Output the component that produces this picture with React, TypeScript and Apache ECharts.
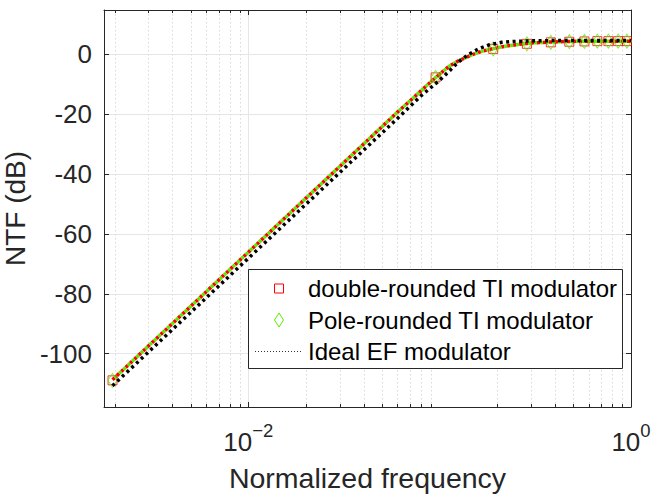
import React, { useEffect, useRef } from "react";
import * as echarts from "echarts";

// ---- data ----
const redFreq = [0.00195, 0.01, 0.03, 0.06, 0.075, 0.0947, 0.111, 0.125, 0.147, 0.166, 0.187, 0.22, 0.258, 0.303, 0.38, 0.475, 0.57, 0.67, 0.8, 1.0];
const redDb = [-108.7, -66.1, -37.5, -19.4, -13.8, -7.9, -4.2, -2.2, -0.2, 1.0, 1.8, 2.7, 3.3, 3.8, 4.1, 4.3, 4.35, 4.4, 4.4, 4.4];
const greenFreq = [0.00195, 0.01, 0.03, 0.06, 0.075, 0.0947, 0.111, 0.125, 0.147, 0.166, 0.187, 0.22, 0.258, 0.303, 0.38, 0.475, 0.57, 0.67, 0.8, 1.0];
const greenDb = [-108.7, -66.1, -37.5, -19.4, -13.8, -7.9, -4.2, -2.2, -0.2, 1.0, 1.8, 2.7, 3.3, 3.8, 4.1, 4.3, 4.35, 4.4, 4.4, 4.4];
const idealFreq = [0.00195, 0.01, 0.03, 0.06, 0.0807, 0.0986, 0.111, 0.125, 0.141, 0.1595, 0.18, 0.211, 0.248, 0.303, 0.4, 0.6, 1.0];
const idealDb = [-110.7, -68.1, -39.5, -21.5, -13.6, -9.0, -5.9, -2.6, -0.1, 1.8, 3.1, 4.0, 4.3, 4.5, 4.6, 4.6, 4.6];
const markerFreq = [0.00195, 0.0952, 0.1905, 0.2857, 0.381, 0.476, 0.571, 0.667, 0.762, 0.857, 0.952];
const redMarkerDb = [-108.9, -7.7, 1.8, 3.5, 4.0, 4.2, 4.3, 4.4, 4.4, 4.4, 4.4];
const greenMarkerDb = [-108.9, -7.7, 1.8, 3.5, 4.0, 4.2, 4.3, 4.4, 4.4, 4.4, 4.4];
const minorTickValues = [0.002, 0.003, 0.004, 0.005, 0.006, 0.007, 0.008, 0.009, 0.02, 0.03, 0.04, 0.05, 0.06, 0.07, 0.08, 0.09, 0.2, 0.3, 0.4, 0.5, 0.6, 0.7, 0.8, 0.9];
const majorTickValues = [0.01];
const xLabelExponents = [-2, 0];
const legendNames = ["double-rounded TI modulator", "Pole-rounded TI modulator", "Ideal EF modulator"];

const X_MIN = 0.00176;
const X_MAX = 1;
const Y_MIN = -117.8;
const Y_MAX = 14.8;

const FONT = '"Liberation Sans", Arial, Helvetica, sans-serif';
const AXIS_COLOR = "#262626";
const RED = "#ff0000";
const GREEN = "#55ee00";

const zip = (a: number[], b: number[]) => a.map((v, i) => [v, b[i]]);

export default function App() {
  const ref = useRef<HTMLDivElement>(null);
  useEffect(() => {
    if (!ref.current) return;
    const chart = echarts.init(ref.current, undefined, { renderer: "svg" });

    const tickData = [
      ...minorTickValues.map((v) => [v, 0]),
      ...majorTickValues.map((v) => [v, 1]),
    ];

    const xLabelFormatter = (v: number) => {
      const lg = Math.log10(v);
      for (const e of xLabelExponents) {
        if (Math.abs(lg - e) < 1e-6) return `{b|10}{s|${e < 0 ? "\u2212" + Math.abs(e) : e}}`;
      }
      return "";
    };

    const legendTop = 269;
    const legendLeft = 248;
    const rows = [288.5, 320, 351];
    const LZ = 100;

    const option: any = {
      animation: false,
      backgroundColor: "#ffffff",
      grid: { left: 104, right: 21, top: 10, bottom: 88, containLabel: false, outerBoundsMode: "none" },
      xAxis: [
        {
          type: "log",
          logBase: 10,
          min: X_MIN,
          max: X_MAX,
          position: "bottom",
          name: "Normalized frequency",
          nameLocation: "middle",
          nameGap: 56,
          nameTextStyle: { fontSize: 28.5, color: AXIS_COLOR, fontFamily: FONT },
          axisLine: { show: true, onZero: false, lineStyle: { color: AXIS_COLOR, width: 1 } },
          axisTick: { show: false },
          splitLine: { show: false },
          minorTick: { show: false },
          axisLabel: {
            show: true,
            margin: 14,
            showMinLabel: false,
            formatter: xLabelFormatter,
            rich: {
              b: { fontSize: 26, fontFamily: FONT, color: AXIS_COLOR, verticalAlign: "bottom", lineHeight: 34 },
              s: { fontSize: 18.5, fontFamily: FONT, color: AXIS_COLOR, verticalAlign: "top", lineHeight: 19 },
            },
          },
        },
        {
          type: "log",
          logBase: 10,
          min: X_MIN,
          max: X_MAX,
          position: "top",
          axisLine: { show: true, onZero: false, lineStyle: { color: AXIS_COLOR, width: 1 } },
          axisTick: { show: false },
          axisLabel: { show: false },
          splitLine: { show: false },
        },
      ],
      yAxis: [
        {
          type: "value",
          min: Y_MIN,
          max: Y_MAX,
          splitNumber: 7,
          position: "left",
          name: "NTF (dB)",
          nameLocation: "middle",
          nameGap: 71,
          nameTextStyle: { fontSize: 28, color: AXIS_COLOR, fontFamily: FONT },
          axisLine: { show: true, onZero: false, lineStyle: { color: AXIS_COLOR, width: 1 } },
          axisTick: { show: true, inside: true, length: 5, lineStyle: { color: AXIS_COLOR } },
          axisLabel: {
            show: true,
            margin: 12,
            fontSize: 26,
            fontFamily: FONT,
            color: AXIS_COLOR,
            formatter: (v: number) => (Math.abs(v % 20) < 1e-9 ? String(v) : ""),
          },
          splitLine: { show: true, lineStyle: { color: "#e6e6e6", width: 1 } },
        },
        {
          type: "value",
          min: Y_MIN,
          max: Y_MAX,
          splitNumber: 7,
          position: "right",
          axisLine: { show: true, onZero: false, lineStyle: { color: AXIS_COLOR, width: 1 } },
          axisTick: { show: true, inside: true, length: 5, lineStyle: { color: AXIS_COLOR } },
          axisLabel: { show: false },
          splitLine: { show: false },
        },
      ],
      series: [
        {
          type: "custom",
          xAxisIndex: 0,
          yAxisIndex: 0,
          z: 1,
          silent: true,
          data: tickData,
          encode: { x: 0, y: 1 },
          renderItem: (params: any, api: any) => {
            const f = api.value(0);
            const major = api.value(1) === 1;
            const cs = params.coordSys;
            const x = Math.round(api.coord([f, 0])[0]) + 0.5;
            const top = cs.y;
            const bottom = cs.y + cs.height;
            const len = major ? 5 : 3;
            return {
              type: "group",
              children: [
                {
                  type: "line",
                  shape: { x1: x, y1: top, x2: x, y2: bottom },
                  style: major
                    ? { stroke: "#e6e6e6", lineWidth: 1 }
                    : { stroke: "#d9d9d9", lineWidth: 1, lineDash: [1.5, 2.5] },
                },
                { type: "line", shape: { x1: x, y1: bottom, x2: x, y2: bottom - len }, style: { stroke: AXIS_COLOR, lineWidth: 1 } },
                { type: "line", shape: { x1: x, y1: top, x2: x, y2: top + len }, style: { stroke: AXIS_COLOR, lineWidth: 1 } },
              ],
            };
          },
        },
        {
          name: "red-line",
          type: "line",
          z: 3,
          data: zip(redFreq, redDb),
          showSymbol: false,
          symbol: "none",
          lineStyle: { color: RED, width: 3.5, type: [3, 3], dashOffset: 0, cap: "butt" },
        },
        {
          name: "green-line",
          type: "line",
          z: 3,
          data: zip(greenFreq, greenDb),
          showSymbol: false,
          symbol: "none",
          lineStyle: { color: GREEN, width: 3.5, type: [3, 3], dashOffset: 3, cap: "butt" },
        },
        {
          name: legendNames[0],
          type: "scatter",
          z: 4,
          data: zip(markerFreq, redMarkerDb),
          symbol: "rect",
          symbolSize: 9,
          itemStyle: { color: "rgba(0,0,0,0)", borderColor: RED, borderWidth: 1 },
        },
        {
          name: legendNames[1],
          type: "scatter",
          z: 4,
          data: zip(markerFreq, greenMarkerDb),
          symbol: "diamond",
          symbolSize: [9, 14],
          itemStyle: { color: "rgba(0,0,0,0)", borderColor: GREEN, borderWidth: 1 },
        },
        {
          name: legendNames[2],
          type: "line",
          z: 5,
          data: zip(idealFreq, idealDb),
          showSymbol: false,
          symbol: "none",
          lineStyle: { color: "#000000", width: 3.5, type: [3, 3.5], cap: "butt" },
        },
      ],
      graphic: {
        elements: [
          {
            type: "rect",
            z: LZ,
            shape: { x: legendLeft + 0.5, y: legendTop + 0.5, width: 374, height: 99 },
            style: { fill: "#ffffff", stroke: AXIS_COLOR, lineWidth: 1 },
          },
          {
            type: "rect",
            z: LZ + 1,
            shape: { x: 274.5, y: rows[0] - 4.5, width: 9, height: 9 },
            style: { fill: "none", stroke: RED, lineWidth: 1 },
          },
          {
            type: "polygon",
            z: LZ + 1,
            shape: { points: [[279, rows[1] - 7], [283.5, rows[1]], [279, rows[1] + 7], [274.5, rows[1]]] },
            style: { fill: "none", stroke: GREEN, lineWidth: 1 },
          },
          {
            type: "line",
            z: LZ + 1,
            shape: { x1: 255, y1: rows[2] + 0.5, x2: 302, y2: rows[2] + 0.5 },
            style: { stroke: "#333333", lineWidth: 1, lineDash: [1, 2] },
          },
          ...legendNames.map((t, i) => ({
            type: "text",
            z: LZ + 1,
            x: 308,
            y: rows[i],
            style: {
              text: t,
              fontSize: 24,
              fontFamily: FONT,
              fill: "#000000",
              verticalAlign: "middle",
              align: "left",
            },
          })),
        ],
      },
    };

    chart.setOption(option);
    return () => chart.dispose();
  }, []);

  return (
    <div
      ref={ref}
      style={{ position: "fixed", left: 0, top: 0, width: 652, height: 495, background: "#fff" }}
    />
  );
}
